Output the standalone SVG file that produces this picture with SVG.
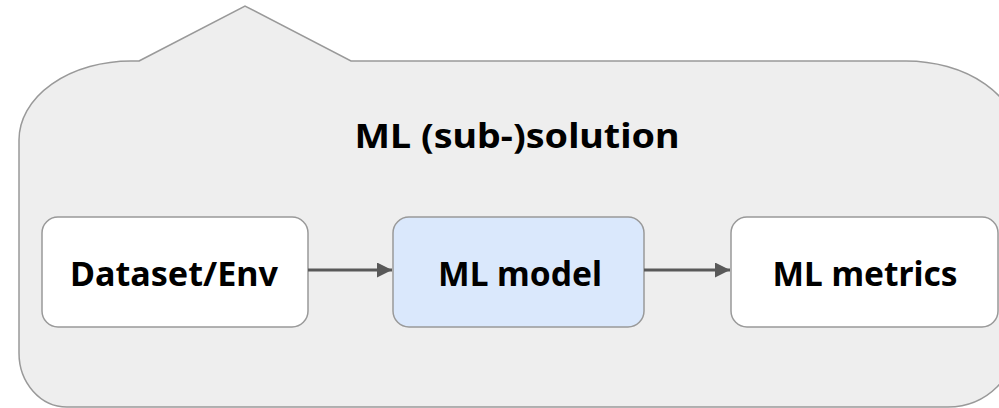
<svg xmlns="http://www.w3.org/2000/svg" width="999" height="408" viewBox="0 0 999 408">
<style>
.box{fill:#ffffff;stroke:#999999;stroke-width:1.5}
.blue{fill:#dae8fc}
.lbl{font-family:"Noto Sans","Liberation Sans",sans-serif;font-weight:bold;fill:#000000;text-anchor:middle}
.edge{stroke:#595959;stroke-width:3;fill:none}
</style>
<defs>
<marker id="arr" viewBox="0 0 10 10" refX="10" refY="5" markerWidth="5" markerHeight="5" markerUnits="strokeWidth" orient="auto">
<path d="M0,0 L10,5 L0,10 z" fill="#595959"/>
</marker>
</defs>
<g id="container">
<path d="M 139 61 L 245 6 L 351 61 L 906 61 A 112 79 0 0 1 1018 140 L 1018 337 A 70 70 0 0 1 948 407 L 67 407 A 48 54 0 0 1 19 353 L 19 140 A 112 79 0 0 1 131 61 Z" fill="#eeeeee" stroke="#999999" stroke-width="1.5"/>
<text class="lbl" x="517" y="148" font-size="34" textLength="325" lengthAdjust="spacingAndGlyphs">ML (sub-)solution</text>
</g>
<g id="dataset">
<rect class="box" x="42" y="217" width="266" height="110" rx="16"/>
<text class="lbl" x="174" y="286" font-size="34" textLength="208" lengthAdjust="spacingAndGlyphs">Dataset/Env</text>
</g>
<g id="model">
<rect class="box blue" x="393" y="217" width="251" height="110" rx="16"/>
<text class="lbl" x="520" y="286" font-size="34" textLength="164" lengthAdjust="spacingAndGlyphs">ML model</text>
</g>
<g id="metrics">
<rect class="box" x="731" y="217" width="267" height="110" rx="16"/>
<text class="lbl" x="865" y="286" font-size="34" textLength="185" lengthAdjust="spacingAndGlyphs">ML metrics</text>
</g>
<g id="connectors">
<line class="edge" x1="308" y1="270" x2="392" y2="270" marker-end="url(#arr)"/>
<line class="edge" x1="644" y1="270" x2="730" y2="270" marker-end="url(#arr)"/>
</g>
</svg>
